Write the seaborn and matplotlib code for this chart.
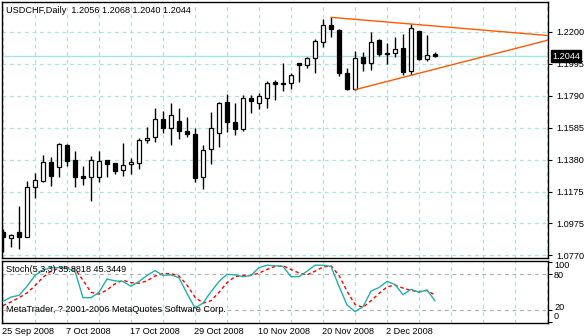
import numpy as np
import pandas as pd
import matplotlib
matplotlib.use("Agg")
import matplotlib.pyplot as plt
import matplotlib.transforms as mtransforms
import seaborn as sns

# ---------------- data ----------------
opens = [1.0920, 1.0882, 1.0916, 1.0888, 1.1204, 1.1246, 1.1364, 1.1332, 1.1475, 1.1377,
         1.1277, 1.1268, 1.1272, 1.1377, 1.1358, 1.1313, 1.1351, 1.1358, 1.1505, 1.1524,
         1.1639, 1.1582, 1.1627, 1.1563, 1.1543, 1.1272, 1.1447, 1.1550, 1.1748, 1.1622,
         1.1575, 1.1778, 1.1742, 1.1778, 1.1880, 1.1874, 1.1870, 1.1998, 1.1987, 1.2030,
         1.2132, 1.2243, 1.2211, 1.1938, 1.1831, 1.2036, 1.1998, 1.2147, 1.2066, 1.2066,
         1.2094, 1.1949, 1.2205, 1.2025, 1.2056]
highs = [1.0937, 1.0905, 1.1085, 1.1246, 1.1294, 1.1413, 1.1400, 1.1486, 1.1481, 1.1435,
         1.1341, 1.1405, 1.1435, 1.1380, 1.1362, 1.1488, 1.1392, 1.1518, 1.1588, 1.1710,
         1.1694, 1.1742, 1.1710, 1.1656, 1.1582, 1.1473, 1.1684, 1.1748, 1.1801, 1.1742,
         1.1795, 1.1795, 1.1806, 1.1886, 1.1891, 1.2002, 1.1938, 1.2002, 1.2040, 1.2151,
         1.2279, 1.2292, 1.2215, 1.1970, 1.2078, 1.2072, 1.2200, 1.2153, 1.2130, 1.2168,
         1.2185, 1.2249, 1.2207, 1.2179, 1.2068]
lows = [1.0792, 1.0820, 1.0807, 1.0885, 1.1138, 1.1240, 1.1214, 1.1272, 1.1342, 1.1204,
        1.1219, 1.1118, 1.1240, 1.1268, 1.1289, 1.1278, 1.1287, 1.1319, 1.1486, 1.1496,
        1.1554, 1.1477, 1.1515, 1.1528, 1.1240, 1.1195, 1.1351, 1.1464, 1.1560, 1.1539,
        1.1566, 1.1678, 1.1707, 1.1714, 1.1761, 1.1819, 1.1835, 1.1880, 1.1966, 1.1938,
        1.2100, 1.2168, 1.1917, 1.1827, 1.1827, 1.1950, 1.1955, 1.2046, 1.1991, 1.2040,
        1.1923, 1.1923, 1.2019, 1.2013, 1.2040]
closes = [1.0888, 1.0899, 1.0888, 1.1204, 1.1251, 1.1364, 1.1278, 1.1479, 1.1374, 1.1272,
          1.1266, 1.1377, 1.1371, 1.1355, 1.1310, 1.1345, 1.1366, 1.1505, 1.1518, 1.1639,
          1.1582, 1.1665, 1.1563, 1.1543, 1.1264, 1.1441, 1.1582, 1.1744, 1.1620, 1.1575,
          1.1774, 1.1758, 1.1787, 1.1872, 1.1865, 1.1863, 1.1921, 1.1987, 1.2030, 1.2141,
          1.2243, 1.2215, 1.1934, 1.1831, 1.2030, 1.1998, 1.2132, 1.2055, 1.2055, 1.2089,
          1.1940, 1.2222, 1.2023, 1.2051, 1.2044]

stoch_main = [35, 42, 45, 60, 78, 87, 91, 91, 90, 85,
              41, 41, 50, 72, 69, 68, 60, 68, 78, 86,
              78, 79, 74, 48, 24, 32, 51, 68, 80, 79,
              76, 78, 91, 95, 94, 93, 76, 76, 85, 95,
              95, 93, 60, 29, 18, 26, 52, 58, 68, 63,
              46, 55, 50, 54, 35.8818]
stoch_signal = [28, 34, 41, 49, 61, 75, 85, 90, 91, 89,
                70, 50, 47, 54, 64, 70, 66, 65, 69, 77,
                81, 81, 77, 62, 42, 32, 36, 50, 66, 76,
                78, 78, 82, 88, 93, 94, 88, 82, 79, 85,
                92, 94, 78, 52, 30, 25, 36, 48, 59, 62,
                57, 53, 51, 53, 45.3449]

date_labels = ["25 Sep 2008", "7 Oct 2008", "17 Oct 2008", "29 Oct 2008",
               "10 Nov 2008", "20 Nov 2008", "2 Dec 2008"]
date_label_bars = [0, 8, 16, 24, 32, 40, 48]
price_tick_labels = ["1.0770", "1.0975", "1.1175", "1.1380", "1.1585", "1.1790", "1.1995", "1.2200"]
stoch_levels = [0, 20, 80, 100]
stoch_level_labels = ["0", "20", "80", "100"]

upper_trend = ([41, 51], [1.2292, 1.2249])
lower_trend = ([44, 51], [1.1829, 1.1921])

symbol_title = "USDCHF,Daily  1.2056 1.2068 1.2040 1.2044"
stoch_title = "Stoch(5,3,3) 35.8818 45.3449"
copyright_text = "MetaTrader, ? 2001-2006 MetaQuotes Software Corp."
bid = 1.2044

# ---------------- style ----------------
sns.set_style("white")
plt.rcParams["font.family"] = ["Liberation Sans", "DejaVu Sans"]
FS = 6.6
GRID = "#a8e4e4"

W, H = 584, 336
fig = plt.figure(figsize=(W / 100, H / 100), dpi=100)
fig.patch.set_facecolor("white")

def frac(x0, y0, x1, y1):
    return [x0 / W, 1 - y1 / H, (x1 - x0) / W, (y1 - y0) / H]

ax = fig.add_axes(frac(2, 2, 548, 258))
axs = fig.add_axes(frac(2, 261, 548, 323))

n = len(opens)
idx = np.arange(n)
df = pd.DataFrame({"bar": idx, "open": opens, "high": highs, "low": lows, "close": closes,
                   "main": stoch_main, "signal": stoch_signal})

XMIN, XMAX = -0.125, 68.125
grid_bars = np.arange(0, 69, 4)

# ---------------- price panel ----------------
for b in grid_bars:
    ax.axvline(b, color=GRID, lw=0.9, ls=(0, (3, 3)), zorder=0)
price_ticks = [float(t) for t in price_tick_labels]
for t in price_ticks:
    ax.axhline(t, color=GRID, lw=0.9, ls=(0, (3, 3)), zorder=0)
ax.axhline(bid, color=GRID, lw=1.0, zorder=0.5)

ax.vlines(df["bar"], df["low"], df["high"], color="black", lw=1.0, zorder=2)
up = df["close"] >= df["open"]
bottoms = np.minimum(df["open"], df["close"])
heights = np.maximum(np.abs(df["close"] - df["open"]), 0.0003)
ax.bar(df["bar"][up], heights[up], bottom=bottoms[up], width=0.6,
       color="white", edgecolor="black", linewidth=0.9, zorder=3)
ax.bar(df["bar"][~up], heights[~up], bottom=bottoms[~up], width=0.6,
       color="black", edgecolor="black", linewidth=0.9, zorder=3)

for (xs, ys) in (upper_trend, lower_trend):
    slope = (ys[1] - ys[0]) / (xs[1] - xs[0])
    xe = XMAX + 1
    ax.plot([xs[0], xe], [ys[0], ys[0] + slope * (xe - xs[0])], color="#ff5a00", lw=1.0, zorder=4)

ax.set_xlim(XMIN, XMAX)
ax.set_ylim(1.0752, 1.2390)
ax.yaxis.tick_right()
ax.set_yticks(price_ticks)
ax.set_yticklabels(price_tick_labels, fontsize=FS)
ax.tick_params(axis="y", direction="out", length=3, width=0.8, pad=3, colors="black")
ax.set_xticks([])
for s in ax.spines.values():
    s.set_color("black")
    s.set_linewidth(1.0)

ax.text(4 / 546, 1 - 8 / 256, symbol_title, transform=ax.transAxes, fontsize=FS,
        va="center", ha="left", color="black")

trans = mtransforms.blended_transform_factory(ax.transAxes, ax.transData)
ax.text(1.0 + 4 / 546, bid, "1.2044", transform=trans, fontsize=FS, color="white",
        va="center", ha="left", zorder=10, clip_on=False,
        bbox=dict(boxstyle="square,pad=0.15", fc="black", ec="black"))

# ---------------- stochastic panel ----------------
for b in grid_bars:
    axs.axvline(b, color=GRID, lw=0.9, ls=(0, (3, 3)), zorder=0)
for lv in (20, 80):
    axs.axhline(lv, color="#b4b4b4", lw=0.9, ls=(0, (3, 3)), zorder=0)

sns.lineplot(data=df, x="bar", y="main", ax=axs, color="#20b2aa", lw=1.0, zorder=3)
sns.lineplot(data=df, x="bar", y="signal", ax=axs, color="red", lw=1.0,
             linestyle=(0, (2.5, 2)), zorder=2)

axs.set_xlim(XMIN, XMAX)
axs.set_ylim(-1, 102)
axs.set_xlabel("")
axs.set_ylabel("")
axs.yaxis.tick_right()
axs.set_yticks(stoch_levels)
axs.set_yticklabels([""] * len(stoch_levels))
axs.tick_params(axis="y", direction="out", length=3, width=0.8, colors="black")
# level labels, nudged apart near the panel edges (pixel offsets)
strans = mtransforms.blended_transform_factory(axs.transAxes, axs.transData)
nudge_px = {"0": 5.5, "20": 2.5, "80": -1, "100": -3}
for lv, lab in zip(stoch_levels, stoch_level_labels):
    off = mtransforms.ScaledTranslation(6 / 100, nudge_px[lab] / 100, fig.dpi_scale_trans)
    axs.text(1.0, lv, lab, transform=strans + off, fontsize=FS, va="center", ha="left",
             color="black", clip_on=False)

axs.set_xticks(date_label_bars)
axs.set_xticklabels(date_labels, fontsize=FS, ha="left")
axs.tick_params(axis="x", direction="out", length=3, width=0.8, pad=0, colors="black")
offset = mtransforms.ScaledTranslation(-1 / 100, 0, fig.dpi_scale_trans)
for lab in axs.get_xticklabels():
    lab.set_transform(lab.get_transform() + offset)
for s in axs.spines.values():
    s.set_color("black")
    s.set_linewidth(1.0)

axs.text(4 / 546, 1 - 9 / 62, stoch_title, transform=axs.transAxes, fontsize=FS,
         va="center", ha="left", color="black")
axs.text(4 / 546, 1 - 49 / 62, copyright_text, transform=axs.transAxes, fontsize=FS,
         va="center", ha="left", color="black")

fig.savefig("out.png", dpi=100, facecolor="white")
